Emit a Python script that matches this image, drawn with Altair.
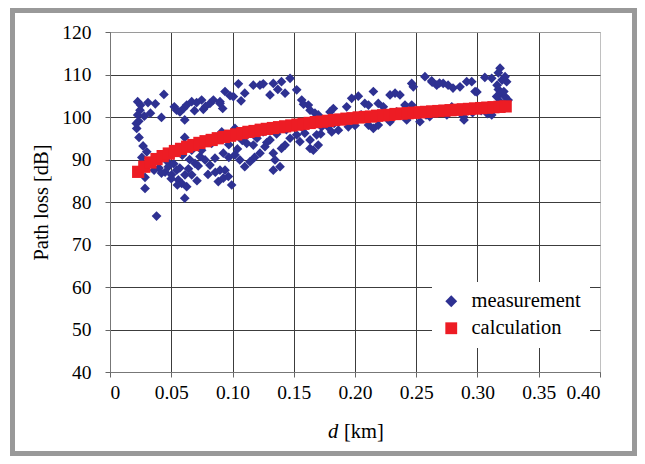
import altair as alt
import pandas as pd

# ---------------- data ----------------
series_names = ["measurement", "calculation"]
x_ticks = [0, 0.05, 0.10, 0.15, 0.20, 0.25, 0.30, 0.35, 0.40]
y_ticks = [40, 50, 60, 70, 80, 90, 100, 110, 120]

meas_d = [
    0.0226, 0.0245, 0.0226, 0.0218, 0.0237, 0.027, 0.030, 0.031, 0.037, 0.044,
    0.033, 0.042, 0.0286, 0.0286, 0.038, 0.0235, 0.025, 0.028, 0.0215, 0.026,
    0.034, 0.036, 0.040, 0.045, 0.047,
    0.0525, 0.0544, 0.0571, 0.060, 0.0626, 0.0667, 0.0707, 0.0748, 0.0762, 0.0816,
    0.0844, 0.0898, 0.061, 0.0898, 0.0939, 0.078, 0.092, 0.069,
    0.042, 0.0476, 0.0503, 0.0544, 0.0558, 0.0585, 0.0612, 0.0626, 0.0667, 0.0694,
    0.0735, 0.0776, 0.0816, 0.0857, 0.0898, 0.0925, 0.0884, 0.0667, 0.0748, 0.083,
    0.0912, 0.061, 0.061, 0.052, 0.057, 0.064, 0.059, 0.050, 0.055, 0.071,
    0.080, 0.072, 0.065, 0.086, 0.097,
    0.1048, 0.1007, 0.110, 0.117, 0.1224, 0.1251, 0.1333, 0.140, 0.147, 0.1306,
    0.1429, 0.1524, 0.1565, 0.1619, 0.1633, 0.1673, 0.098, 0.107, 0.137, 0.158,
    0.102, 0.0925, 0.0939, 0.0966, 0.0993, 0.102, 0.106, 0.110, 0.1143, 0.117,
    0.1116, 0.1224, 0.1265, 0.1306, 0.1333, 0.1347, 0.1388, 0.1333, 0.140, 0.1429,
    0.147, 0.1524, 0.155, 0.159, 0.1633, 0.1633, 0.166, 0.1687, 0.1673, 0.108,
    0.113, 0.120, 0.125, 0.128, 0.136, 0.144, 0.150, 0.157, 0.161, 0.118,
    0.104, 0.097,
    0.170, 0.1728, 0.170, 0.1796, 0.1823, 0.178, 0.1864, 0.1932, 0.1973, 0.2027,
    0.1946, 0.208, 0.215, 0.211, 0.211, 0.215, 0.219, 0.219, 0.2231, 0.2286,
    0.2327, 0.2367, 0.2286, 0.234, 0.2408, 0.2422, 0.2463, 0.175, 0.183, 0.190,
    0.200, 0.205, 0.225, 0.238, 0.246, 0.172, 0.181,
    0.2476, 0.2571, 0.2626, 0.2667, 0.272, 0.276, 0.280, 0.2857, 0.2912, 0.2953,
    0.298, 0.306, 0.3116, 0.3184, 0.3170, 0.320, 0.3238, 0.317, 0.3184, 0.3224,
    0.3156, 0.3184, 0.3116, 0.2884, 0.289, 0.279, 0.261, 0.253, 0.2463, 0.263,
    0.269, 0.2995, 0.322, 0.319, 0.325, 0.3215, 0.316, 0.3225, 0.267, 0.275,
    0.283, 0.296, 0.303, 0.308, 0.314, 0.258,
]
meas_pl = [
    103.6, 101.6, 100.5, 97.3, 95.2, 93.2, 91.8, 103.4, 103.1, 105.3,
    100.9, 99.9, 85.8, 83.2, 76.7, 99.0, 102.8, 100.2, 98.5, 90.5,
    89.2, 87.5, 88.0, 87.0, 89.5,
    102.4, 101.6, 101.2, 102.0, 102.8, 103.6, 103.4, 104.0, 101.8, 103.2,
    104.0, 103.6, 99.3, 103.2, 106.0, 102.5, 102.0, 101.5,
    86.8, 88.3, 86.4, 87.5, 85.2, 84.4, 86.4, 83.6, 86.4, 89.1,
    90.7, 89.9, 88.7, 90.3, 87.5, 85.6, 84.8, 92.2, 92.2, 93.8,
    96.5, 95.2, 80.9, 89.0, 88.0, 87.8, 91.0, 85.5, 84.0, 85.0,
    86.5, 88.5, 90.0, 87.0, 90.5,
    107.8, 104.8, 105.6, 107.5, 107.5, 107.8, 107.9, 108.3, 109.1, 105.2,
    105.6, 106.4, 104.0, 102.8, 101.6, 100.9, 105.0, 103.8, 106.5, 103.0,
    97.3, 91.5, 87.5, 86.0, 84.0, 91.1, 89.9, 88.3, 89.5, 93.4,
    93.8, 91.5, 93.0, 94.6, 91.5, 89.9, 88.3, 87.5, 92.6, 93.4,
    95.0, 95.8, 94.2, 96.2, 94.6, 92.6, 92.2, 95.8, 98.9, 94.5,
    96.0, 95.0, 96.5, 94.0, 96.0, 97.0, 98.0, 97.5, 98.5, 90.5,
    92.5, 93.5,
    100.5, 97.7, 93.4, 101.2, 102.0, 97.7, 96.9, 102.4, 104.4, 104.9,
    97.7, 103.2, 106.0, 102.8, 98.1, 97.3, 98.1, 103.2, 102.4, 105.2,
    105.6, 105.2, 98.9, 101.2, 102.8, 99.3, 107.9, 99.0, 98.5, 99.5,
    98.0, 100.5, 100.0, 100.5, 102.0, 96.0, 96.5,
    107.1, 109.5, 108.5, 107.5, 107.9, 107.5, 106.8, 107.1, 108.3, 108.3,
    106.0, 109.3, 109.1, 111.5, 110.4, 108.7, 108.3, 106.5, 105.6, 104.8,
    104.8, 103.6, 100.5, 100.1, 99.3, 102.4, 100.1, 98.9, 102.8, 108.2,
    108.0, 105.9, 103.0, 102.5, 104.0, 106.0, 107.5, 109.5, 101.0, 100.5,
    101.5, 101.0, 101.5, 100.8, 102.0, 100.5,
]

calc_d = [
    0.023, 0.028, 0.033, 0.038, 0.043, 0.048, 0.053, 0.058, 0.063, 0.068,
    0.073, 0.078, 0.083, 0.088, 0.093, 0.098, 0.103, 0.108, 0.113, 0.118,
    0.123, 0.128, 0.133, 0.138, 0.143, 0.148, 0.153, 0.158, 0.163, 0.168,
    0.173, 0.178, 0.183, 0.188, 0.193, 0.198, 0.203, 0.208, 0.213, 0.218,
    0.223, 0.228, 0.233, 0.238, 0.243, 0.248, 0.253, 0.258, 0.263, 0.268,
    0.273, 0.278, 0.283, 0.288, 0.293, 0.298, 0.303, 0.308, 0.313, 0.318,
    0.323,
]
calc_pl = [
    87.1, 88.3, 89.3, 90.1, 90.8, 91.4, 92.0, 92.5, 93.0, 93.4,
    93.9, 94.3, 94.6, 95.0, 95.3, 95.6, 95.9, 96.2, 96.5, 96.7,
    97.0, 97.2, 97.4, 97.6, 97.8, 98.0, 98.2, 98.4, 98.6, 98.8,
    98.9, 99.1, 99.3, 99.4, 99.6, 99.7, 99.9, 100.0, 100.1, 100.3,
    100.4, 100.5, 100.7, 100.8, 100.9, 101.0, 101.1, 101.2, 101.3, 101.4,
    101.5, 101.6, 101.7, 101.8, 101.9, 102.0, 102.1, 102.2, 102.3, 102.4,
    102.5,
]

df_m = pd.DataFrame({"d": meas_d, "pl": meas_pl, "series": series_names[0]})
df_c = pd.DataFrame({"d": calc_d, "pl": calc_pl, "series": series_names[1]})

SERIF = "Liberation Serif, Times New Roman, DejaVu Serif, serif"

legend = alt.Legend(
    title=None, orient="none", legendX=322, legendY=250,
    fillColor="white", padding=9, rowPadding=6, labelOffset=10,
    labelFont=SERIF, labelFontSize=20.5, labelColor="black",
    symbolSize=140, symbolStrokeColor="#1c1c50", symbolStrokeWidth=0.8,
    symbolOpacity=1,
)
color = alt.Color("series:N", scale=alt.Scale(domain=series_names, range=["#2E3192", "#ED1C24"]), legend=legend)
shape = alt.Shape("series:N", scale=alt.Scale(domain=series_names, range=["diamond", "square"]), legend=legend)

x_enc = alt.X(
    "d:Q",
    scale=alt.Scale(domain=[0, 0.4], nice=False, zero=False),
    axis=alt.Axis(
        values=x_ticks, title=None,
        labelExpr="datum.value == 0 ? '0' : format(datum.value, '.2f')",
        labelFont=SERIF, labelFontSize=19.5, labelColor="black", labelPadding=6,
        tickSize=5, tickColor="#666", domainColor="#777",
        grid=True, gridWidth=1,
        gridColor={"condition": {"test": "datum.value >= 0.399", "value": "#c0c0c0"}, "value": "#3c3c3c"},
    ),
)
y_enc = alt.Y(
    "pl:Q",
    scale=alt.Scale(domain=[40, 120], nice=False, zero=False),
    axis=alt.Axis(
        values=y_ticks, title="Path loss [dB]",
        labelFont=SERIF, labelFontSize=19.5, labelColor="black", labelPadding=14,
        tickSize=5, tickColor="#666", domainColor="#777",
        grid=True, gridWidth=1,
        gridColor={"condition": {"test": "datum.value >= 120", "value": "#9a9a9a"}, "value": "#3c3c3c"},
        titleFont=SERIF, titleFontSize=20.5, titleFontWeight="normal", titleColor="black",
        titlePadding=10,
    ),
)

meas = alt.Chart(df_m).mark_point(filled=True, size=95, opacity=1).encode(
    x=x_enc, y=y_enc, color=color, shape=shape
)
calc = alt.Chart(df_c).mark_point(filled=True, size=150, opacity=1).encode(
    x="d:Q", y="pl:Q", color=color, shape=shape
)

one = alt.Data(values=[{"k": 1}])
frame = alt.Chart(one).mark_rect(fillOpacity=0, stroke="#999999", strokeWidth=5).encode(
    x=alt.value(-97.5), x2=alt.value(524.5), y=alt.value(-21.5), y2=alt.value(421.5)
)
title_d = alt.Chart(one).mark_text(
    text="d", font=SERIF, fontSize=20.5, fontStyle="italic", align="left", baseline="middle", color="black"
).encode(x=alt.value(218), y=alt.value(400))
title_km = alt.Chart(one).mark_text(
    text="[km]", font=SERIF, fontSize=20.5, align="left", baseline="middle", color="black"
).encode(x=alt.value(234), y=alt.value(400))

chart = alt.layer(frame, meas, calc, title_d, title_km).properties(
    width=490, height=340,
    autosize=alt.AutoSizeParams(type="none"),
    padding={"left": 102, "top": 24, "right": 37, "bottom": 84},
    background="white",
).configure_view(stroke="#c0c0c0")

chart.save("out.html", embed_options={"renderer": "svg", "actions": False})
